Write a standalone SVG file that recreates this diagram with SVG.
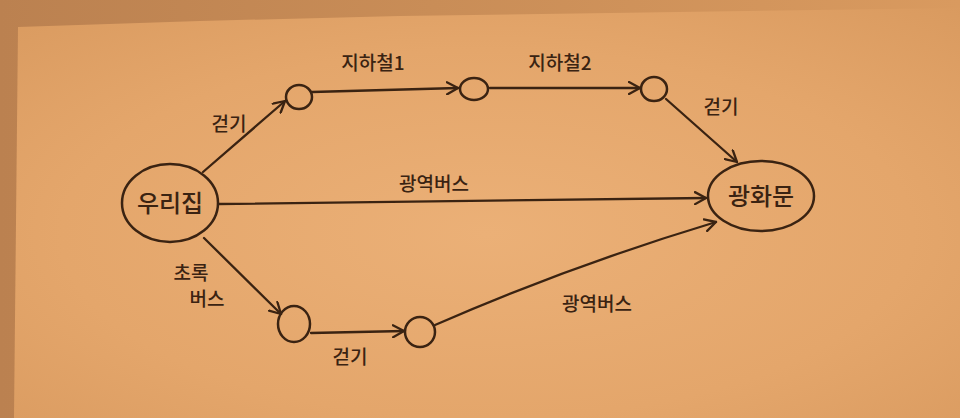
<svg xmlns="http://www.w3.org/2000/svg" width="960" height="418" viewBox="0 0 960 418">
  <defs>
    <radialGradient id="paper" cx="0.5" cy="0.55" r="0.75">
      <stop offset="0" stop-color="#ebb077"/>
      <stop offset="0.6" stop-color="#e4a66b"/>
      <stop offset="1" stop-color="#d99a5f"/>
    </radialGradient>
    <linearGradient id="bg" x1="0" y1="0" x2="1" y2="0">
      <stop offset="0" stop-color="#bb8150"/>
      <stop offset="0.45" stop-color="#c98d57"/>
      <stop offset="1" stop-color="#d99a5f"/>
    </linearGradient>
    <marker id="arr" viewBox="0 0 14 14" refX="12" refY="7" markerWidth="14" markerHeight="14" markerUnits="userSpaceOnUse" orient="auto">
      <path d="M1,1 L12,7 L1,13" fill="none" stroke="#3a2312" stroke-width="2.3" stroke-linecap="round" stroke-linejoin="round"/>
    </marker>
    <style>
      .n { fill: none; stroke: #3a2312; stroke-width: 2.5; }
      .e { fill: none; stroke: #3a2312; stroke-width: 2.3; stroke-linecap: round; marker-end: url(#arr); }
      .t { font-family: "Noto Sans CJK KR", "Noto Sans", sans-serif; fill: #3a2312; text-anchor: middle; font-weight: 500; }
      .lbl { font-size: 19px; }
      .big { font-size: 24px; }
    </style>
  </defs>
  <rect x="0" y="0" width="960" height="418" fill="url(#bg)"/>
  <path d="M18,27 L200,21 L400,16 L960,8 L960,418 L14,418 Z" fill="url(#paper)"/>

  <g id="connectors">
    <path class="e" d="M203,172 L285,101"/>
    <path class="e" d="M312,92 L458,88"/>
    <path class="e" d="M490,88 L640,88"/>
    <path class="e" d="M666,99 L737,162"/>
    <path class="e" d="M218,204 L706,198"/>
    <path class="e" d="M204,238 L281,314"/>
    <path class="e" d="M311,333 L404,331"/>
    <path class="e" d="M435,325 Q570,266 716,222"/>
  </g>
  <g id="edge-labels">
    <text class="t lbl" x="229" y="131">걷기</text>
    <text class="t lbl" x="373" y="70">지하철1</text>
    <text class="t lbl" x="560" y="70">지하철2</text>
    <text class="t lbl" x="721" y="114">걷기</text>
    <text class="t lbl" x="434" y="191">광역버스</text>
    <text class="t lbl" x="191" y="280">초록</text>
    <text class="t lbl" x="207" y="306">버스</text>
    <text class="t lbl" x="350" y="364">걷기</text>
    <text class="t lbl" x="597" y="311">광역버스</text>
  </g>

  <g id="node-home">
    <ellipse class="n" cx="170" cy="203" rx="48" ry="39"/>
    <text class="t big" x="170" y="212">우리집</text>
  </g>
  <g id="node-gwanghwamun">
    <ellipse class="n" cx="761" cy="196" rx="53" ry="35"/>
    <text class="t big" x="761" y="205">광화문</text>
  </g>
  <g id="node-t1"><ellipse class="n" cx="299" cy="97" rx="13" ry="12"/></g>
  <g id="node-t2"><ellipse class="n" cx="474" cy="89" rx="14" ry="11"/></g>
  <g id="node-t3"><ellipse class="n" cx="654" cy="89" rx="13" ry="12"/></g>
  <g id="node-b1"><ellipse class="n" cx="294" cy="324" rx="16" ry="18"/></g>
  <g id="node-b2"><ellipse class="n" cx="420" cy="332" rx="15" ry="15"/></g>
</svg>
